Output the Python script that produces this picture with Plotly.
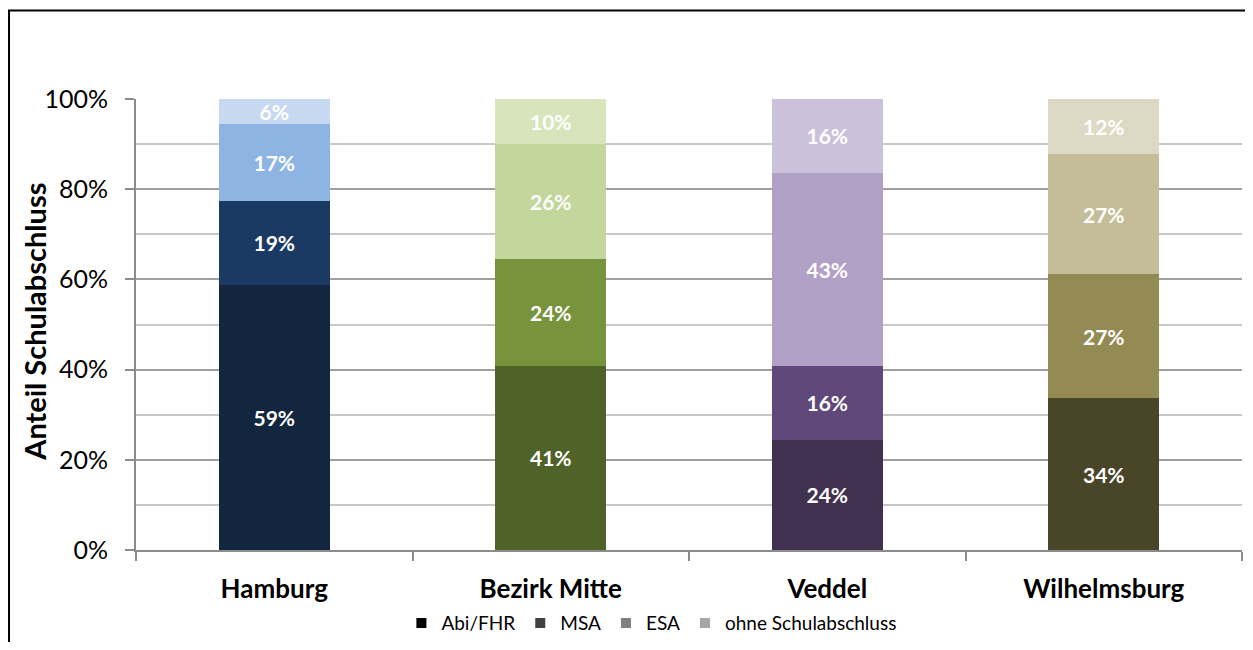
import plotly.graph_objects as go

# Daten
orte = ["Hamburg", "Bezirk Mitte", "Veddel", "Wilhelmsburg"]
abschluesse = ["Abi/FHR", "MSA", "ESA", "ohne Schulabschluss"]

abi_fhr = [58.8, 40.8, 24.4, 33.7]
msa = [18.6, 23.7, 16.4, 27.5]
esa = [17.1, 25.5, 42.8, 26.6]
ohne = [5.5, 10.0, 16.4, 12.2]

abi_label = ["59%", "41%", "24%", "34%"]
msa_label = ["19%", "24%", "16%", "27%"]
esa_label = ["17%", "26%", "43%", "27%"]
ohne_label = ["6%", "10%", "16%", "12%"]

# Farben je Ort (dunkel -> hell)
farben = {
    "Abi/FHR": ["#132640", "#4f6228", "#403151", "#494529"],
    "MSA": ["#1b3a63", "#77933c", "#60497a", "#948a54"],
    "ESA": ["#8eb4e3", "#c3d69b", "#b2a1c7", "#c4bd97"],
    "ohne Schulabschluss": ["#c6d9f1", "#d8e4bc", "#ccc1da", "#ddd9c4"],
}
legend_farben = ["#000000", "#404040", "#808080", "#a6a6a6"]

FONT = "Lato"

fig = go.Figure()

serien = [
    ("Abi/FHR", abi_fhr, abi_label),
    ("MSA", msa, msa_label),
    ("ESA", esa, esa_label),
    ("ohne Schulabschluss", ohne, ohne_label),
]

for name, werte, labels in serien:
    fig.add_trace(go.Bar(
        x=orte, y=werte, name=name,
        marker=dict(color=farben[name], line=dict(width=0)),
        text=labels, textposition="inside", insidetextanchor="middle",
        textangle=0, constraintext="none",
        textfont=dict(family=FONT, size=21, color="white", weight="bold"),
        showlegend=False,
        hovertemplate=f"{name}<br>%{{x}}: %{{text}}<extra></extra>"
    ))

# Legende mit grauen Quadraten
for name, farbe in zip(abschluesse, legend_farben):
    fig.add_trace(go.Scatter(
        x=[None], y=[None], mode="markers", name=name,
        marker=dict(symbol="square", size=10, color=farbe),
    ))

fig.update_layout(
    barmode="stack", bargap=0.6,
    width=1237, height=634,
    paper_bgcolor="white", plot_bgcolor="white",
    margin=dict(l=128, r=3, t=91, b=92, autoexpand=False),
    font=dict(family=FONT, color="black"),
    legend=dict(
        orientation="h", x=0.466, xanchor="center", y=-0.162, yanchor="middle",
        font=dict(family=FONT, size=19), itemwidth=30, traceorder="normal",
    ),
    xaxis=dict(
        showline=True, linecolor="#8c8c8c", linewidth=2,
        ticks="outside", tickson="boundaries", ticklen=9, tickcolor="#8c8c8c", tickwidth=2,
        tickfont=dict(family=FONT, size=26, weight="bold"),
        ticklabelstandoff=15,
        showgrid=False, automargin=False,
    ),
    yaxis=dict(
        range=[0, 100], dtick=20, ticksuffix="%",
        showline=True, linecolor="#8c8c8c", linewidth=2,
        ticks="outside", ticklen=9, tickcolor="#8c8c8c", tickwidth=2,
        tickfont=dict(family=FONT, size=25),
        ticklabelstandoff=12,
        showgrid=True, gridcolor="#a0a0a0", gridwidth=2,
        minor=dict(dtick=10, showgrid=True, gridcolor="#c8c8c8", gridwidth=2),
        zeroline=False, automargin=False,
    ),
    annotations=[dict(
        text="Anteil Schulabschluss", textangle=-90, showarrow=False,
        xref="paper", yref="paper", x=-0.0925, y=0.5055,
        xanchor="center", yanchor="middle",
        font=dict(family=FONT, size=29, weight="bold"),
    )],
    shapes=[dict(
        type="rect", xref="paper", yref="paper",
        x0=-0.1148, x1=1.06, y0=-0.3, y1=1.196,
        line=dict(color="black", width=2), fillcolor="rgba(0,0,0,0)", layer="below",
    )],
)

fig.write_html("out.html")
